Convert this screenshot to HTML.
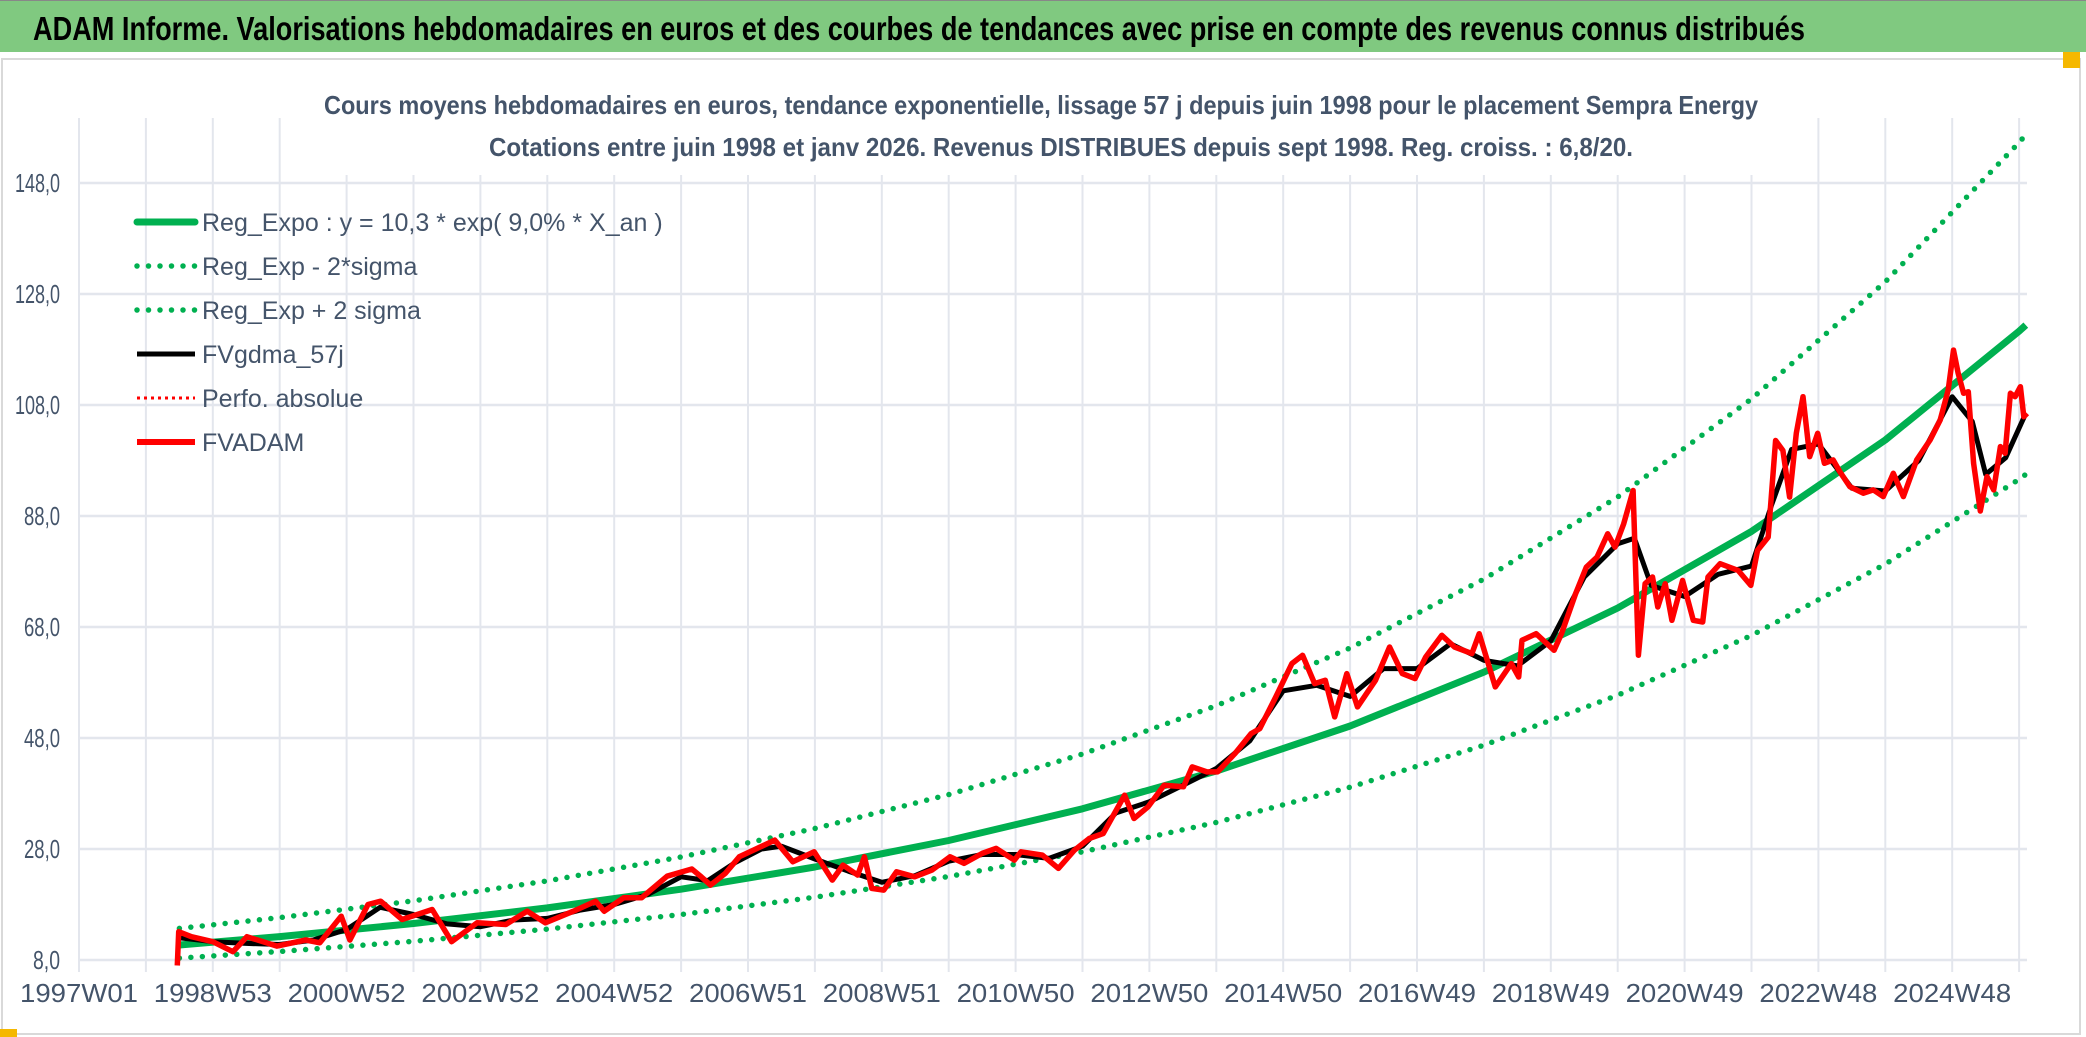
<!DOCTYPE html>
<html><head><meta charset="utf-8"><style>
html,body{margin:0;padding:0;background:#fff;}
svg{display:block;font-family:"Liberation Sans",sans-serif;}
</style></head><body>
<svg id="chart" width="2086" height="1037" viewBox="0 0 2086 1037" xmlns="http://www.w3.org/2000/svg">
<rect x="0" y="0" width="2086" height="1037" fill="#fff"/>
<rect x="0" y="0" width="2086" height="52" fill="#80c980"/>
<line x1="0" y1="0.5" x2="2086" y2="0.5" stroke="#888"/>
<text x="33" y="40" font-size="33" font-weight="bold" fill="#000" textLength="1772" lengthAdjust="spacingAndGlyphs">ADAM Informe. Valorisations hebdomadaires en euros et des courbes de tendances avec prise en compte des revenus connus distribués</text>
<rect x="2" y="59" width="2078" height="975" fill="none" stroke="#d9d9d9" stroke-width="2"/>
<rect x="2063" y="52" width="17" height="16" fill="#f5b800"/>
<rect x="0" y="1029" width="17" height="8" fill="#f5b800"/>
<g id="grid"></g>
<rect x="310" y="75" width="1470" height="100" fill="#fff"/>
<text x="324" y="114" font-size="26" font-weight="bold" fill="#44546a" textLength="1434" lengthAdjust="spacingAndGlyphs">Cours moyens hebdomadaires en euros, tendance exponentielle, lissage 57 j depuis juin 1998 pour le placement Sempra Energy</text>
<text x="489" y="156" font-size="26" font-weight="bold" fill="#44546a" textLength="1144" lengthAdjust="spacingAndGlyphs">Cotations entre juin 1998 et janv 2026. Revenus DISTRIBUES depuis sept 1998. Reg. croiss. : 6,8/20.</text>
<g id="axes"></g>
<g id="series"></g>
<g id="legend"></g>
</svg>
<script>
const yTicks=[8,28,48,68,88,108,128,148];
const yTickLabels=["8,0","28,0","48,0","68,0","88,0","108,0","128,0","148,0"];
const xTickLabels=["1997W01","1998W53","2000W52","2002W52","2004W52","2006W51","2008W51","2010W50","2012W50","2014W50","2016W49","2018W49","2020W49","2022W48","2024W48"];
const trendT=[1998.5,2000,2002,2004,2006,2008,2010,2012,2014,2016,2018,2020,2022,2024,2026,2026.1];
const regExpo=[10.70,12.22,14.58,17.39,20.75,24.76,29.54,35.25,42.05,50.17,59.87,71.43,85.23,101.7,121.3,122.4];
const regUpper=[13.70,15.64,18.66,22.26,26.56,31.69,37.81,45.12,53.82,64.22,76.63,91.43,109.1,130.2,155.3,156.7];
const regLower=[8.35,9.53,11.37,13.56,16.19,19.31,23.04,27.50,32.80,39.13,46.70,55.72,66.48,79.33,94.61,95.5];
const redT=[1998.47,1998.49,1998.68,1999.0,1999.3,1999.51,1999.96,2000.39,2000.6,2000.92,2001.05,2001.32,2001.51,2001.83,2002.28,2002.57,2002.95,2003.38,2003.7,2003.97,2004.39,2004.72,2004.85,2005.14,2005.41,2005.79,2006.16,2006.3,2006.44,2006.66,2006.87,2007.19,2007.4,2007.67,2007.99,2008.26,2008.42,2008.64,2008.74,2008.85,2009.03,2009.22,2009.49,2009.75,2010.02,2010.23,2010.5,2010.71,2010.98,2011.08,2011.4,2011.64,2011.88,2012.1,2012.31,2012.63,2012.77,2012.98,2013.22,2013.51,2013.64,2013.86,2014.02,2014.28,2014.52,2014.65,2014.89,2015.13,2015.29,2015.47,2015.63,2015.77,2015.95,2016.11,2016.38,2016.59,2016.78,2016.97,2017.13,2017.37,2017.56,2017.82,2017.93,2018.17,2018.41,2018.52,2018.57,2018.78,2019.05,2019.16,2019.37,2019.53,2019.69,2019.85,2019.96,2020.09,2020.23,2020.31,2020.41,2020.52,2020.6,2020.71,2020.81,2020.97,2021.13,2021.27,2021.35,2021.53,2021.8,2021.99,2022.09,2022.25,2022.36,2022.47,2022.57,2022.67,2022.77,2022.87,2022.99,2023.09,2023.22,2023.32,2023.47,2023.67,2023.82,2023.97,2024.12,2024.27,2024.47,2024.67,2024.82,2024.94,2025.02,2025.09,2025.17,2025.24,2025.32,2025.42,2025.52,2025.62,2025.72,2025.79,2025.87,2025.94,2026.02,2026.07,2026.12];
const redV=[7.0,13.1,12.2,11.3,9.5,12.2,10.5,11.6,11.1,15.9,11.6,18.0,18.6,15.3,17.1,11.3,14.7,14.4,16.8,14.7,16.8,18.6,16.8,19.2,19.2,23.1,24.4,23.0,21.5,23.6,26.6,28.4,29.6,25.7,27.5,22.4,25.1,23.3,26.6,20.9,20.6,23.9,23.0,24.2,26.6,25.4,27.2,28.1,26.0,27.5,26.9,24.5,27.8,29.9,30.8,37.7,33.5,35.6,39.5,39.2,42.8,41.9,41.9,45.2,48.8,49.7,55.4,61.4,62.9,57.8,58.4,51.8,59.6,53.6,58.4,64.4,59.6,58.7,62.6,66.5,64.4,63.2,66.8,57.2,61.4,59.0,65.6,66.8,63.8,66.8,74.0,78.8,80.6,84.8,82.4,86.6,92.6,62.9,75.8,77.0,71.6,75.8,69.2,76.4,69.2,68.9,77.0,79.4,78.2,75.5,81.8,84.2,101.6,99.8,91.4,102.9,109.5,98.7,102.9,97.5,98.1,96.0,93.3,92.1,92.7,91.5,95.7,91.5,98.1,101.7,105.3,110.7,117.9,113.7,110.1,110.4,97.5,88.9,95.1,92.7,100.5,99.3,110.1,109.5,111.3,105.9,106.5];
const blackT=[1998.5,1999.0,1999.5,2000.0,2000.5,2001.0,2001.5,2002.0,2002.5,2003.0,2003.5,2004.0,2004.5,2005.0,2005.5,2006.0,2006.4,2006.8,2007.2,2007.5,2008.0,2008.5,2009.0,2009.5,2010.0,2010.5,2011.0,2011.5,2012.0,2012.5,2013.0,2013.5,2014.0,2014.5,2015.0,2015.5,2016.0,2016.5,2017.0,2017.5,2018.0,2018.5,2019.0,2019.5,2020.0,2020.25,2020.5,2021.0,2021.5,2022.0,2022.3,2022.6,2023.0,2023.5,2024.0,2024.5,2025.0,2025.3,2025.5,2025.8,2026.1];
const blackV=[12.0,11.3,11.0,10.8,11.6,13.5,17.5,16.2,14.5,14.0,15.2,15.5,17.0,18.0,19.8,23.0,22.3,25.5,28.0,28.5,26.2,24.0,22.0,23.2,25.8,27.0,27.0,26.3,28.5,34.5,36.5,39.5,42.5,47.5,56.5,57.5,55.5,60.5,60.5,65.0,62.0,61.0,65.5,77.0,83.0,84.0,75.5,73.5,77.5,79.0,90.0,100.0,101.0,93.0,92.5,98.0,109.5,105.0,95.5,98.5,106.5];

const NS="http://www.w3.org/2000/svg";
const X0=79, PXY=66.9, Y8=960, PXV=5.55;
function xs(t){return X0+(t-1997)*PXY;}
function ys(v){return Y8-(v-8)*PXV;}
function mk(tag,attrs,parent){const e=document.createElementNS(NS,tag);for(const k in attrs)e.setAttribute(k,attrs[k]);parent.appendChild(e);return e;}
const grid=document.getElementById('grid'),axes=document.getElementById('axes'),series=document.getElementById('series'),legend=document.getElementById('legend');
for(let i=0;i<=29;i++){
  const x=xs(1997+i);
  const l=mk('line',{x1:x,y1:118,x2:x,y2:972,stroke:'#e3e6ed','stroke-width':2},grid);
  
  
}
yTicks.forEach((v,i)=>{
  const y=ys(v);
  const l=mk('line',{x1:X0,y1:y,x2:2027,y2:y,stroke:'#e3e6ed','stroke-width':2.5},grid);
  
  
  const s=yTickLabels[i];
  const t=mk('text',{x:60,y:y+9,'font-size':26,fill:'#44546a','text-anchor':'end',textLength:s.length*9,lengthAdjust:'spacingAndGlyphs'},axes);
  t.textContent=s;
  
  
});
xTickLabels.forEach((s,i)=>{
  const t=mk('text',{x:xs(1997+2*i),y:1002,'font-size':26,fill:'#44546a','text-anchor':'middle',textLength:118,lengthAdjust:'spacingAndGlyphs'},axes);
  t.textContent=s;
  
  
});
function pathD(T,V){return T.map((t,i)=>(i?'L':'M')+xs(t).toFixed(1)+' '+ys(V[i]).toFixed(1)).join(' ');}
const dotted={stroke:'#00b050','stroke-width':5.5,fill:'none','stroke-linecap':'round','stroke-dasharray':'0 11.5'};
let p=mk('path',Object.assign({d:pathD(trendT,regUpper)},dotted),series);


p=mk('path',Object.assign({d:pathD(trendT,regLower)},dotted),series);


p=mk('path',{d:pathD(trendT,regExpo),stroke:'#00b050','stroke-width':7,fill:'none','stroke-linejoin':'round'},series);


p=mk('path',{d:pathD(blackT,blackV),stroke:'#000','stroke-width':5,fill:'none','stroke-linejoin':'round'},series);


p=mk('path',{d:pathD(redT,redV),stroke:'#ff0000','stroke-width':5.5,fill:'none','stroke-linejoin':'round'},series);



const legendLabels=["Reg_Expo : y = 10,3 * exp( 9,0% *  X_an )","Reg_Exp - 2*sigma","Reg_Exp + 2 sigma","FVgdma_57j","Perfo. absolue","FVADAM"];
const legendStyles=[
 {stroke:'#00b050','stroke-width':7,'stroke-linecap':'round'},
 dotted,dotted,
 {stroke:'#000','stroke-width':5},
 {stroke:'#ff0000','stroke-width':3,'stroke-dasharray':'3 4'},
 {stroke:'#ff0000','stroke-width':6}];
legendLabels.forEach((s,i)=>{
  const y=222+i*44;
  const g=mk('g',{},legend);
  
  
  const l=mk('line',Object.assign({x1:137,y1:y,x2:195,y2:y},legendStyles[i]),g);
  
  
  const t=mk('text',{x:202,y:y+9,'font-size':25,fill:'#44546a'},g);
  t.textContent=s;
  
  
});
</script>
</body></html>
